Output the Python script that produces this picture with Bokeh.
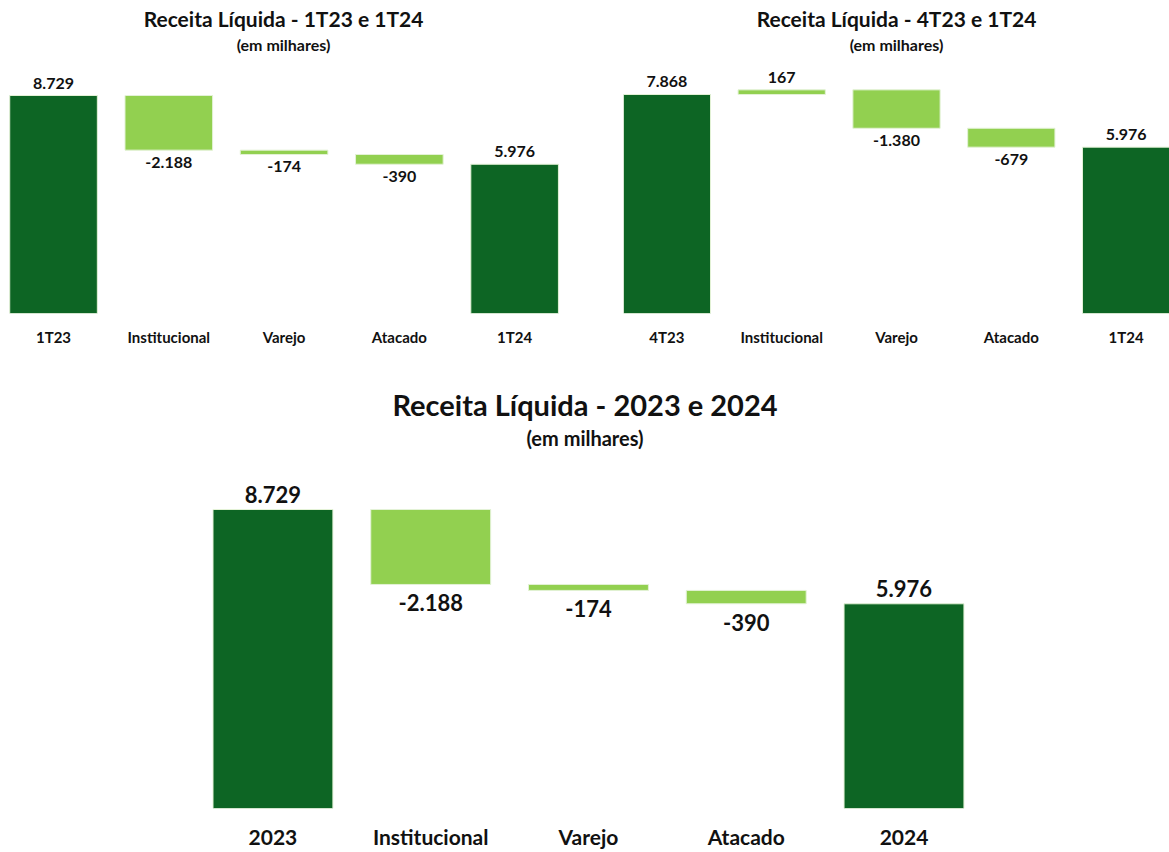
from bokeh.plotting import figure
from bokeh.models import ColumnDataSource, Title, Range1d, FixedTicker, Spacer
from bokeh.layouts import row, column
from bokeh.embed import file_html
from bokeh.resources import INLINE
from bokeh.core.properties import value

# ---- data ----
categories_q1 = ["1T23", "Institucional", "Varejo", "Atacado", "1T24"]
values_q1 = [8729, -2188, -174, -390, 5976]

categories_q4 = ["4T23", "Institucional", "Varejo", "Atacado", "1T24"]
values_q4 = [7868, 167, -1380, -679, 5976]

categories_year = ["2023", "Institucional", "Varejo", "Atacado", "2024"]
values_year = [8729, -2188, -174, -390, 5976]

titles = ["Receita Líquida - 1T23 e 1T24", "Receita Líquida - 4T23 e 1T24", "Receita Líquida - 2023 e 2024"]
subtitle = "(em milhares)"

DARK = "#0D6524"
LIGHT = "#92D050"
FONT = "Lato"
TXT = "#111111"


def fmt(v):
    return f"{v:,}".replace(",", ".")


def waterfall(cats, vals, width, height, xr, yend, val_size, cat_size, frame_top,
              border_bottom, standoff, up_off, dn_off):
    n = len(vals)
    xs, bottoms, tops, colors = [], [], [], []
    running = 0
    for i, v in enumerate(vals):
        if i == 0 or i == n - 1:
            b, t = 0, v
            running = v
            colors.append(DARK)
        else:
            b, t = (running, running + v) if v >= 0 else (running + v, running)
            running += v
            colors.append(LIGHT)
        xs.append(i)
        bottoms.append(b)
        tops.append(t)

    p = figure(width=width, height=height, x_range=Range1d(*xr), y_range=Range1d(0, yend),
               output_backend="svg", toolbar_location=None, y_axis_location=None,
               min_border_left=0, min_border_right=0, min_border_top=frame_top,
               min_border_bottom=border_bottom, outline_line_color=None)
    p.grid.visible = False

    src = ColumnDataSource(dict(x=xs, bottom=bottoms, top=tops, color=colors))
    p.vbar(x="x", bottom="bottom", top="top", width=0.76, fill_color="color",
           line_color="#E3F2D6", line_width=1, source=src)

    up_x, up_y, up_t, dn_x, dn_y, dn_t = [], [], [], [], [], []
    for i, v in enumerate(vals):
        if i == 0 or i == n - 1 or v >= 0:
            up_x.append(xs[i]); up_y.append(tops[i]); up_t.append(fmt(v))
        else:
            dn_x.append(xs[i]); dn_y.append(bottoms[i]); dn_t.append(fmt(v))
    p.text(x=up_x, y=up_y, text=up_t, text_align="center", text_baseline="bottom",
           y_offset=up_off, text_font=value(FONT), text_font_size=f"{val_size}px",
           text_font_style="bold", text_color=TXT)
    p.text(x=dn_x, y=dn_y, text=dn_t, text_align="center", text_baseline="top",
           y_offset=dn_off, text_font=value(FONT), text_font_size=f"{val_size}px",
           text_font_style="bold", text_color=TXT)

    ax = p.xaxis[0]
    ax.ticker = FixedTicker(ticks=list(range(n)))
    ax.major_label_overrides = {i: c for i, c in enumerate(cats)}
    ax.axis_line_color = None
    ax.major_tick_line_color = None
    ax.minor_tick_line_color = None
    ax.major_tick_out = 0
    ax.major_tick_in = 0
    ax.minor_tick_out = 0
    ax.minor_tick_in = 0
    ax.major_label_standoff = standoff
    ax.major_label_text_font = FONT
    ax.major_label_text_font_style = "bold"
    ax.major_label_text_font_size = f"{cat_size}px"
    ax.major_label_text_color = TXT
    return p


def add_titles(p, main, sub, main_size, sub_size, main_standoff):
    p.add_layout(Title(text=sub, align="center", text_font=FONT, text_font_style="bold",
                       text_font_size=f"{sub_size}px", text_color=TXT, standoff=0), "above")
    p.add_layout(Title(text=main, align="center", text_font=FONT, text_font_style="bold",
                       text_font_size=f"{main_size}px", text_color=TXT,
                       standoff=main_standoff), "above")


p1 = waterfall(categories_q1, values_q1, 566, 355, (-0.46, 4.45), 10411,
               16, 15, 53, 42, 14, -7, 7)
add_titles(p1, titles[0], subtitle, 21, 16, 4)

p2 = waterfall(categories_q4, values_q4, 546, 355, (-0.378, 4.378), 9341,
               16, 15, 53, 42, 14, -7, 7)
add_titles(p2, titles[1], subtitle, 21, 16, 4)

p3 = waterfall(categories_year, values_year, 1169, 497, (-1.727, 5.683), 10481,
               22, 21, 94, 44, 15, -7, 10)
add_titles(p3, titles[2], subtitle, 29, 20, 3)

layout = column(row(p1, Spacer(width=57), p2), p3)
open("out.html", "w").write(file_html(layout, INLINE))
